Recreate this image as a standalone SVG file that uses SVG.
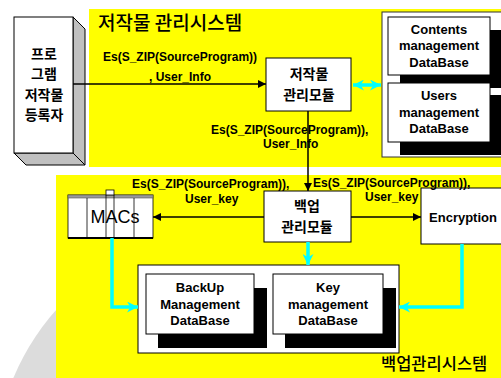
<svg xmlns="http://www.w3.org/2000/svg" width="501" height="378" viewBox="0 0 501 378">
<defs>
<style>
.en{font-family:"Liberation Sans",Arial,sans-serif;font-weight:bold;font-size:12px;fill:#000}
.db{font-family:"Liberation Sans",Arial,sans-serif;font-weight:bold;font-size:13px;fill:#000;text-anchor:middle}
.ko{font-family:"Noto Sans CJK KR","Noto Sans",sans-serif;font-weight:bold;font-size:14px;fill:#000;text-anchor:middle}
.title{font-family:"Noto Sans CJK KR","Noto Sans",sans-serif;font-weight:500;font-size:19px;fill:#000}
.box{fill:#fff;stroke:#000;stroke-width:1}
.shadow{fill:#000}
.ln{stroke:#000;stroke-width:1.5;fill:none}
.cy{stroke:#00ffff;stroke-width:3.5;fill:none}
</style>
<marker id="ah" viewBox="0 0 10 10" refX="10" refY="5" markerWidth="8" markerHeight="8" markerUnits="userSpaceOnUse" orient="auto">
<path d="M0,0 L10,5 L0,10 z" fill="#000"/>
</marker>
<marker id="ch" viewBox="0 0 10 10" refX="10" refY="5" markerWidth="11" markerHeight="11" markerUnits="userSpaceOnUse" orient="auto-start-reverse">
<path d="M0,0 L10,5 L0,10 L3,5 z" fill="#00ffff"/>
</marker>
</defs>
<rect width="501" height="378" fill="#fff"/>
<circle cx="235" cy="470" r="240" fill="#dcdcdc"/>
<rect x="89" y="9" width="420" height="158" fill="#ffff00"/>
<rect x="56" y="175" width="450" height="210" fill="#ffff00"/>
<text class="title" x="98" y="30">저작물 관리시스템</text>
<text class="title" x="381" y="370" style="font-size:16.5px">백업관리시스템</text>

<g id="registrant">
<path d="M73,17 L85,29 L85,165 L73,153 Z" fill="#c0c0c0" stroke="#000" stroke-width="1"/>
<path d="M14,153 L73,153 L85,165 L26,165 Z" fill="#c0c0c0" stroke="#000" stroke-width="1"/>
<rect class="box" x="14" y="17" width="59" height="136"/>
<text class="ko" x="44" y="59">프로</text>
<text class="ko" x="44" y="79">그램</text>
<text class="ko" x="44" y="100">저작물</text>
<text class="ko" x="44" y="120">등록자</text>
</g>

<g id="copyright-module">
<rect class="box" x="266" y="58" width="85" height="53"/>
<text class="ko" x="309" y="79">저작물</text>
<text class="ko" x="309" y="100">관리모듈</text>
</g>

<g id="copyright-db">
<rect x="382" y="12" width="130" height="145" fill="#fff" stroke="#333" stroke-width="1"/>
<rect class="shadow" x="400" y="30" width="110" height="58"/>
<rect class="shadow" x="400" y="95" width="110" height="60"/>
<rect class="box" x="388" y="17" width="102" height="58"/>
<text class="db" x="439" y="34">Contents</text>
<text class="db" x="439" y="50">management</text>
<text class="db" x="439" y="67">DataBase</text>
<rect class="box" x="388" y="83" width="102" height="59"/>
<text class="db" x="439" y="100">Users</text>
<text class="db" x="439" y="117">management</text>
<text class="db" x="439" y="133">DataBase</text>
</g>

<g id="backup-module">
<rect class="box" x="264" y="191" width="87" height="51"/>
<text class="ko" x="307" y="211">백업</text>
<text class="ko" x="307" y="232">관리모듈</text>
</g>

<g id="macs">
<rect x="68" y="195" width="85" height="43" fill="#fff" stroke="#000" stroke-width="0.8"/>
<rect x="68" y="195" width="85" height="3" fill="#999" stroke="#555" stroke-width="0.6"/>
<line x1="87" y1="198" x2="87" y2="238" stroke="#000" stroke-width="0.8"/>
<line x1="106" y1="195" x2="106" y2="238" stroke="#000" stroke-width="0.8"/>
<line x1="114" y1="195" x2="114" y2="238" stroke="#000" stroke-width="0.8"/>
<line x1="134" y1="198" x2="134" y2="238" stroke="#000" stroke-width="0.8"/>
<rect x="106" y="190" width="8" height="5" fill="#fff" stroke="#000" stroke-width="0.8"/>
<line x1="68" y1="238" x2="153" y2="238" stroke="#000" stroke-width="1.8"/>
<text x="115" y="223" font-family="'Liberation Sans',Arial,sans-serif" font-size="18" text-anchor="middle" fill="#000">MACs</text>
</g>

<g id="encryption">
<rect class="box" x="421" y="188" width="90" height="56"/>
<text class="db" x="463" y="222">Encryption</text>
</g>

<g id="backup-db">
<rect x="138" y="265" width="261" height="88" fill="#fff" stroke="#000" stroke-width="1"/>
<rect class="shadow" x="158" y="288" width="109" height="60"/>
<rect class="shadow" x="285" y="288" width="111" height="60"/>
<rect class="box" x="146" y="274" width="108" height="60"/>
<text class="db" x="200" y="292">BackUp</text>
<text class="db" x="200" y="309">Management</text>
<text class="db" x="200" y="325">DataBase</text>
<rect class="box" x="273" y="274" width="110" height="60"/>
<text class="db" x="328" y="292">Key</text>
<text class="db" x="328" y="309">management</text>
<text class="db" x="328" y="325">DataBase</text>
</g>

<g id="connectors">
<line class="ln" x1="73" y1="84" x2="266" y2="84" marker-end="url(#ah)"/>
<line class="ln" x1="308" y1="111" x2="308" y2="191" marker-end="url(#ah)"/>
<line class="ln" x1="264" y1="217" x2="153" y2="217" marker-end="url(#ah)"/>
<line class="ln" x1="351" y1="217" x2="421" y2="217" marker-end="url(#ah)"/>
<line class="cy" x1="353" y1="85" x2="381" y2="85" marker-start="url(#ch)" marker-end="url(#ch)"/>
<polyline class="cy" points="112,238 112,307 138,307" marker-end="url(#ch)"/>
<line class="cy" x1="308" y1="242" x2="308" y2="265" marker-end="url(#ch)"/>
<polyline class="cy" points="462,244 462,307 399,307" marker-end="url(#ch)"/>
<text class="en" x="103" y="61">Es(S_ZIP(SourceProgram))</text>
<text class="en" x="149" y="81">, User_Info</text>
<text class="en" x="211" y="134">Es(S_ZIP(SourceProgram)),</text>
<text class="en" x="263" y="148">User_Info</text>
<text class="en" x="132" y="188">Es(S_ZIP(SourceProgram)),</text>
<text class="en" x="185" y="203">User_key</text>
<text class="en" x="313" y="187">Es(S_ZIP(SourceProgram)),</text>
<text class="en" x="365" y="201">User_key</text>
</g>
</svg>
